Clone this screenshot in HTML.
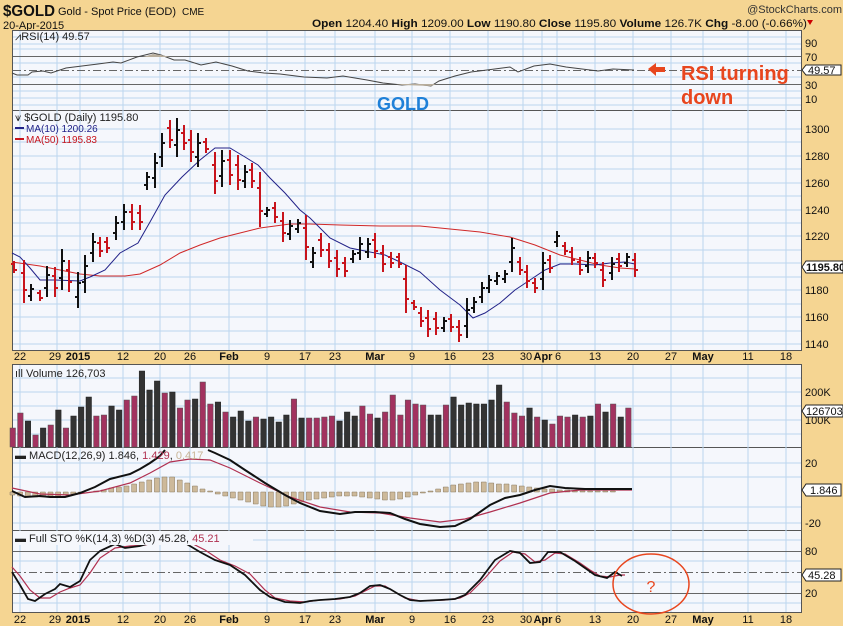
<!DOCTYPE html>
<html><head><meta charset="utf-8"><style>
body{margin:0;background:#F5D592;}
svg{display:block;font-family:"Liberation Sans",sans-serif;}
</style></head><body>
<svg width="843" height="626" viewBox="0 0 843 626" xmlns="http://www.w3.org/2000/svg">
<rect width="843" height="626" fill="#F5D592"/>
<!-- header -->
<text x="3" y="16" font-size="16" font-weight="bold" fill="#111" textLength="52" lengthAdjust="spacingAndGlyphs">$GOLD</text>
<text x="58" y="15" font-size="11" fill="#111">Gold - Spot Price (EOD)</text>
<text x="182" y="15" font-size="10" fill="#111">CME</text>
<text x="3" y="29" font-size="11" fill="#111">20-Apr-2015</text>
<text x="842" y="13" font-size="11" fill="#333" text-anchor="end">@StockCharts.com</text>
<text x="312" y="27" font-size="11" fill="#111" textLength="495" lengthAdjust="spacingAndGlyphs"><tspan font-weight="bold">Open</tspan> 1204.40 <tspan font-weight="bold">High</tspan> 1209.00 <tspan font-weight="bold">Low</tspan> 1190.80 <tspan font-weight="bold">Close</tspan> 1195.80 <tspan font-weight="bold">Volume</tspan> 126.7K <tspan font-weight="bold">Chg</tspan> -8.00 (-0.66%)</text>
<path d="M807 20h6l-3 5z" fill="#c00"/>

<!-- panels backgrounds -->
<g fill="#F5F7FC" stroke="#555" stroke-width="1">
<rect x="12.5" y="30.5" width="789" height="80"/>
<rect x="12.5" y="110.5" width="789" height="240"/>
<rect x="12.5" y="364.5" width="789" height="83"/>
<rect x="12.5" y="447.5" width="789" height="83"/>
<rect x="12.5" y="530.5" width="789" height="82"/>
</g>
<!-- vertical grid -->
<g stroke="#BCD6EE" stroke-width="1">
<path d="M20 31V350M57 31V350M80 31V350M123 31V350M160 31V350M190 31V350M229 31V350M267 31V350M305 31V350M335 31V350M375 31V350M412 31V350M450 31V350M488 31V350M523 31V350M542 31V350M557 31V350M595 31V350M633 31V350M671 31V350M703 31V350M748 31V350M786 31V350"/>
<path d="M20 365V612M57 365V612M80 365V612M123 365V612M160 365V612M190 365V612M229 365V612M267 365V612M305 365V612M335 365V612M375 365V612M412 365V612M450 365V612M488 365V612M523 365V612M542 365V612M557 365V612M595 365V612M633 365V612M671 365V612M703 365V612M748 365V612M786 365V612"/>
<!-- horizontal grid -->
<path d="M13 37H801M13 44H801M13 49H801M13 63H801M13 77H801M13 91H801M13 98H801M13 105H801"/>
<path d="M13 129H801M13 156H801M13 183H801M13 210H801M13 236H801M13 263H801M13 290H801M13 317H801M13 344H801M13 142H801M13 169H801M13 196H801M13 223H801M13 250H801M13 277H801M13 304H801M13 331H801"/>
<path d="M13 392H801M13 420H801M13 406H801M13 378H801M13 434H801"/>
<path d="M13 463H801M13 477H801M13 507H801M13 523H801"/>
<path d="M13 540H801M13 561H801M13 582H801M13 603H801"/>
</g>
<!-- RSI levels -->
<g stroke="#666" stroke-width="1">
<path d="M13 56.5H801M13 84.5H801"/>
<path d="M13 70.5H801" stroke-dasharray="8,3,2,3"/>
<path d="M13 551.5H801M13 593.5H801"/>
<path d="M13 572.5H801" stroke-dasharray="8,3,2,3"/>
</g>
<!-- RSI line -->
<polyline fill="none" stroke="#444" stroke-width="1" points="12,73 17,75 28,75 32,72 43,71 51,73 66,68 82,66 98,64 113,62 121,63 137,57 153,53 161,55 174,60 185,60 201,65 216,62 232,66 248,71 264,73 280,74 304,77 327,78 343,76 367,80 383,83 402,85 415,84 431,86 439,81 455,76 471,72 487,70 510,67 518,72 534,66 550,64 566,67 582,69 598,71 613,69 634,70"/>
<path d="M153 54 L161 55 L170 57 L143 57Z" fill="#b8ad9c"/>
<path d="M402 85 L431 86 L436 84 L396 84Z" fill="#b8ad9c"/>
<text x="15" y="40" font-size="11" fill="#222">⩘RSI(14) 49.57</text>
<text x="377" y="110" font-size="18" font-weight="bold" fill="#1F80D8">GOLD</text>
<path d="M648 69l8-6v4h9v5h-9v4z" fill="#E8461E"/>
<text x="681" y="80" font-size="20" font-weight="bold" fill="#E8461E">RSI turning</text>
<text x="681" y="104" font-size="20" font-weight="bold" fill="#E8461E">down</text>

<!-- MA lines -->
<polyline fill="none" stroke="#D02828" stroke-width="1" points="12,262 40,266 60,270 80,274 100,276 125,276 140,274 160,265 180,253 200,245 220,238 240,233 260,228 290,224 310,224 340,225 380,226 420,226 450,229 480,232 510,237 535,245 560,255 580,260 600,265 620,268 635,269"/>
<polyline fill="none" stroke="#222288" stroke-width="1" points="12,253 20,257 30,268 40,280 55,280 80,281 90,277 105,270 120,253 138,243 150,222 165,195 182,177 200,160 215,148 230,148 245,157 258,165 270,178 285,193 300,210 310,218 330,238 350,248 365,251 385,255 400,262 420,272 440,290 460,305 473,318 485,313 500,303 515,290 530,280 545,270 560,264 575,264 595,265 610,263 625,262 635,264"/>
<!-- price bars -->
<g stroke="#C8141C" stroke-width="2" fill="none">
<path d="M14 261V273M11 264H14M14 270H17M24 260V303M21 273H24M24 290H27M40 290V301M37 293H40M40 298H43M55 267V297M52 276H55M55 288H58M69 260V292M66 270H69M69 282H72M100 237V257M97 243H100M100 251H103M107 237V253M104 242H107M107 248H110M132 204V230M129 212H132M132 222H135M140 205V230M137 213H140M140 222H143M170 120V148M167 128H170M170 140H173M184 125V150M181 133H184M184 143H187M191 130V162M188 140H191M191 152H194M206 138V153M203 142H206M206 149H209M215 152V194M212 165H215M215 181H218M230 150V185M227 160H230M230 175H233M238 155V190M235 165H238M238 180H241M252 163V188M249 170H252M252 181H255M260 172V227M257 188H260M260 211H263M275 202V223M272 208H275M275 217H278M283 212V242M280 221H283M283 233H286M306 215V260M303 228H306M306 247H309M321 233V257M318 240H321M321 250H324M329 243V268M326 250H329M329 261H332M337 250V277M334 258H337M337 269H340M345 257V277M342 263H345M345 271H348M375 233V258M372 240H375M375 251H378M383 245V272M380 253H383M383 264H386M391 252V268M388 257H391M391 263H394M399 253V268M396 257H399M399 264H402M406 265V313M403 279H406M406 299H409M414 300V310M411 303H414M414 307H417M421 307V327M418 313H421M421 321H424M428 310V337M425 318H428M428 329H431M436 312V335M433 319H436M436 328H439M451 314V332M448 319H451M451 327H454M459 320V342M456 327H459M459 335H462M520 257V275M517 262H520M520 270H523M527 265V288M524 272H527M527 281H530M535 278V293M532 283H535M535 288H538M550 255V273M547 260H550M550 268H553M565 242V255M562 246H565M565 251H568M572 247V265M569 252H572M572 260H575M580 257V275M577 262H580M580 270H583M595 253V268M592 258H595M595 263H598M603 262V287M600 270H603M603 280H606M619 253V272M616 259H619M619 266H622M635 253V277M632 260H635M635 270H638"/>
</g>
<g stroke="#111" stroke-width="2" fill="none">
<path d="M31 284V301M28 296H31M31 289H34M47 266V297M44 288H47M47 275H50M62 249V290M59 278H62M62 261H65M78 272V308M75 297H78M78 283H81M85 255V293M82 282H85M85 266H88M93 233V262M90 253H93M93 242H96M116 216V240M113 233H116M116 223H119M124 204V230M121 222H124M124 212H127M147 172V190M144 185H147M147 177H150M155 153V188M152 178H155M155 163H158M162 133V167M159 157H162M162 143H165M177 118V157M174 145H177M177 130H180M198 133V167M195 157H198M198 143H201M222 150V187M219 176H222M222 161H225M245 165V188M242 181H245M245 172H248M267 207V217M264 214H267M267 210H270M290 220V240M287 234H290M290 226H293M298 219V233M295 229H298M298 223H301M313 247V268M310 262H313M313 253H316M353 250V263M350 259H353M353 254H356M360 237V260M357 253H360M360 244H363M368 238V258M365 252H368M368 244H371M444 317V332M441 328H444M444 321H447M467 298V338M464 326H467M467 310H470M474 297V313M471 308H474M474 302H477M482 282V303M479 297H482M482 288H485M489 275V293M486 288H489M489 280H492M497 272V285M494 281H497M497 276H500M505 270V283M502 279H505M505 274H508M512 238V272M509 262H512M512 248H515M543 252V290M540 279H543M543 263H546M557 231V247M554 242H557M557 236H560M588 251V273M585 266H588M588 258H591M612 257V280M609 273H612M612 264H615M627 253V267M624 263H627M627 257H630"/>
</g>
<text x="15" y="121" font-size="11" fill="#222">⩛ $GOLD (Daily) 1195.80</text>
<path d="M15 128h9" stroke="#222288" stroke-width="2"/><text x="26" y="132" font-size="10" fill="#222288">MA(10) 1200.26</text>
<path d="M15 139h9" stroke="#C8141C" stroke-width="2"/><text x="26" y="143" font-size="10" fill="#C8141C">MA(50) 1195.83</text>

<!-- volume -->
<g fill="#A2325F" stroke="#555" stroke-width="0.5">
<rect x="10" y="428" width="5.5" height="19"/><rect x="17.6" y="413" width="5.5" height="34"/><rect x="32.8" y="435" width="5.5" height="12"/><rect x="48" y="425" width="5.5" height="22"/><rect x="63.2" y="428" width="5.5" height="19"/><rect x="93.6" y="416" width="5.5" height="31"/><rect x="101.2" y="415" width="5.5" height="32"/><rect x="124" y="400" width="5.5" height="47"/><rect x="131.6" y="396" width="5.5" height="51"/><rect x="162" y="393" width="5.5" height="54"/><rect x="177.2" y="408" width="5.5" height="39"/><rect x="184.8" y="400" width="5.5" height="47"/><rect x="200" y="382" width="5.5" height="65"/><rect x="207.6" y="404" width="5.5" height="43"/><rect x="222.8" y="412" width="5.5" height="35"/><rect x="253.2" y="417" width="5.5" height="30"/><rect x="291.2" y="399" width="5.5" height="48"/><rect x="306.4" y="418" width="5.5" height="29"/><rect x="314" y="418" width="5.5" height="29"/><rect x="321.6" y="417" width="5.5" height="30"/><rect x="329.2" y="416" width="5.5" height="31"/><rect x="359.6" y="406" width="5.5" height="41"/><rect x="367.2" y="414" width="5.5" height="33"/><rect x="382.4" y="412" width="5.5" height="35"/><rect x="390" y="395" width="5.5" height="52"/><rect x="397.6" y="415" width="5.5" height="32"/><rect x="405.2" y="400" width="5.5" height="47"/><rect x="412.8" y="404" width="5.5" height="43"/><rect x="420.4" y="405" width="5.5" height="42"/><rect x="443.2" y="405" width="5.5" height="42"/><rect x="504" y="402" width="5.5" height="45"/><rect x="511.6" y="413" width="5.5" height="34"/><rect x="519.2" y="416" width="5.5" height="31"/><rect x="534.4" y="417" width="5.5" height="30"/><rect x="549.6" y="424" width="5.5" height="23"/><rect x="557.2" y="416" width="5.5" height="31"/><rect x="564.8" y="417" width="5.5" height="30"/><rect x="580" y="417" width="5.5" height="30"/><rect x="595.2" y="404" width="5.5" height="43"/><rect x="610.4" y="404" width="5.5" height="43"/><rect x="625.6" y="408" width="5.5" height="39"/>
</g>
<g fill="#333" stroke="#222" stroke-width="0.5">
<rect x="25.2" y="421" width="5.5" height="26"/><rect x="40.4" y="428" width="5.5" height="19"/><rect x="55.6" y="410" width="5.5" height="37"/><rect x="70.8" y="416" width="5.5" height="31"/><rect x="78.4" y="407" width="5.5" height="40"/><rect x="86" y="397" width="5.5" height="50"/><rect x="108.8" y="406" width="5.5" height="41"/><rect x="116.4" y="410" width="5.5" height="37"/><rect x="139.2" y="371" width="5.5" height="76"/><rect x="146.8" y="390" width="5.5" height="57"/><rect x="154.4" y="381" width="5.5" height="66"/><rect x="169.6" y="392" width="5.5" height="55"/><rect x="192.4" y="399" width="5.5" height="48"/><rect x="215.2" y="402" width="5.5" height="45"/><rect x="230.4" y="417" width="5.5" height="30"/><rect x="238" y="411" width="5.5" height="36"/><rect x="245.6" y="421" width="5.5" height="26"/><rect x="260.8" y="419" width="5.5" height="28"/><rect x="268.4" y="417" width="5.5" height="30"/><rect x="276" y="422" width="5.5" height="25"/><rect x="283.6" y="415" width="5.5" height="32"/><rect x="298.8" y="418" width="5.5" height="29"/><rect x="336.8" y="421" width="5.5" height="26"/><rect x="344.4" y="412" width="5.5" height="35"/><rect x="352" y="416" width="5.5" height="31"/><rect x="374.8" y="418" width="5.5" height="29"/><rect x="428" y="415" width="5.5" height="32"/><rect x="435.6" y="415" width="5.5" height="32"/><rect x="450.8" y="397" width="5.5" height="50"/><rect x="458.4" y="405" width="5.5" height="42"/><rect x="466" y="403" width="5.5" height="44"/><rect x="473.6" y="404" width="5.5" height="43"/><rect x="481.2" y="404" width="5.5" height="43"/><rect x="488.8" y="400" width="5.5" height="47"/><rect x="496.4" y="385" width="5.5" height="62"/><rect x="526.8" y="408" width="5.5" height="39"/><rect x="542" y="420" width="5.5" height="27"/><rect x="572.4" y="415" width="5.5" height="32"/><rect x="587.6" y="416" width="5.5" height="31"/><rect x="602.8" y="412" width="5.5" height="35"/><rect x="618" y="417" width="5.5" height="30"/>
</g>
<text x="15" y="377" font-size="11" fill="#222">ıll Volume 126,703</text>

<!-- MACD histogram -->
<path fill="#CDB99A" stroke="#8a7a60" stroke-width="0.5" d="M10 492v3h5v-3zM17.6 492v4h5v-4zM25.2 492v5h5v-5zM32.8 492v5h5v-5zM40.4 492v5h5v-5zM48 492v4h5v-4zM55.6 492v4h5v-4zM63.2 492v3h5v-3zM70.8 492v2h5v-2zM78.4 492v1h5v-1zM93.6 492v-1h5v1zM101.2 492v-2h5v2zM108.8 492v-4h5v4zM116.4 492v-5h5v5zM124 492v-6h5v6zM131.6 492v-8h5v8zM139.2 492v-10h5v10zM146.8 492v-12h5v12zM154.4 492v-14h5v14zM162 492v-15h5v15zM169.6 492v-15h5v15zM177.2 492v-12h5v12zM184.8 492v-9h5v9zM192.4 492v-6h5v6zM200 492v-3h5v3zM207.6 492v-1h5v1zM215.2 492v2h5v-2zM222.8 492v4h5v-4zM230.4 492v6h5v-6zM238 492v8h5v-8zM245.6 492v10h5v-10zM253.2 492v12h5v-12zM260.8 492v14h5v-14zM268.4 492v15h5v-15zM276 492v15h5v-15zM283.6 492v14h5v-14zM291.2 492v12h5v-12zM298.8 492v10h5v-10zM306.4 492v8h5v-8zM314 492v7h5v-7zM321.6 492v6h5v-6zM329.2 492v5h5v-5zM336.8 492v4h5v-4zM344.4 492v4h5v-4zM352 492v4h5v-4zM359.6 492v5h5v-5zM367.2 492v6h5v-6zM374.8 492v7h5v-7zM382.4 492v8h5v-8zM390 492v8h5v-8zM397.6 492v7h5v-7zM405.2 492v5h5v-5zM412.8 492v3h5v-3zM420.4 492v1h5v-1zM428 492v-1h5v1zM435.6 492v-3h5v3zM443.2 492v-5h5v5zM450.8 492v-7h5v7zM458.4 492v-8h5v8zM466 492v-9h5v9zM473.6 492v-10h5v10zM481.2 492v-10h5v10zM488.8 492v-9h5v9zM496.4 492v-8h5v8zM504 492v-8h5v8zM511.6 492v-7h5v7zM519.2 492v-6h5v6zM526.8 492v-5h5v5zM534.4 492v-4h5v4zM542 492v-3h5v3zM549.6 492v-3h5v3zM557.2 492v-2h5v2zM564.8 492v-2h5v2zM572.4 492v-1h5v1zM580 492v-1h5v1zM587.6 492v-1h5v1zM595.2 492v-1h5v1zM602.8 492v-1h5v1zM610.4 492v-1h5v1z"/>
<polyline fill="none" stroke="#B03050" stroke-width="1.2" points="12,488 40,494 70,495 100,491 130,483 150,473 170,462 190,459 210,460 230,468 260,483 290,497 320,507 350,512 380,513 410,518 440,522 465,519 490,512 520,503 550,493 580,490 632,490"/>
<polyline fill="none" stroke="#111" stroke-width="2" points="12,491 25,497 40,496 50,497 65,497 80,493 95,487 110,479 130,474 140,469 150,463 160,456 165,450"/>
<polyline fill="none" stroke="#111" stroke-width="2" points="208,450 215,453 230,460 245,470 265,483 285,495 300,503 320,511 340,514 355,512 375,512 390,513 405,519 420,524 440,527 455,526 470,519 490,505 505,498 520,495 535,490 550,486 565,488 585,489 600,489 615,489 632,489"/>
<text x="15" y="459" font-size="11" fill="#222">▬ MACD(12,26,9) 1.846, <tspan fill="#B03050">1.429</tspan>, <tspan fill="#C8B496">0.417</tspan></text>

<!-- STO -->
<polyline fill="none" stroke="#B03050" stroke-width="1.2" points="12,567 20,576 30,590 40,598 50,598 60,592 70,588 80,585 90,573 100,558 115,548 130,546 145,545 165,540 185,540 205,550 220,560 235,566 250,574 265,590 275,598 290,601 305,602 320,600 340,599 355,596 365,591 375,586 385,586 395,592 405,598 420,601 445,600 460,598 470,593 485,578 500,561 513,552 525,554 535,562 545,560 555,553 565,554 580,563 590,570 600,576 610,577 620,575 625,575"/>
<polyline fill="none" stroke="#111" stroke-width="1.8" points="12,572 20,585 28,599 35,601 45,594 55,589 60,584 70,587 80,581 90,560 100,551 115,544 125,548 140,546 160,540 180,540 200,552 215,560 230,565 245,575 260,590 270,597 285,602 300,603 310,601 320,600 335,599 350,597 360,593 370,586 380,585 390,589 400,595 410,600 420,601 440,600 455,599 465,595 480,580 495,560 510,551 520,553 530,563 540,562 548,552 560,552 575,561 585,568 595,575 607,578 615,572 622,576"/>
<rect x="13" y="531" width="240" height="14" fill="#F5F7FC"/>
<text x="15" y="542" font-size="11" fill="#222">▬ Full STO %K(14,3) %D(3) 45.28, <tspan fill="#B03050">45.21</tspan></text>
<ellipse cx="651" cy="584" rx="38" ry="30" fill="none" stroke="#E8461E" stroke-width="1.5"/>
<text x="651" y="592" font-size="16" fill="#E8461E" text-anchor="middle">?</text>

<!-- right axis labels -->
<g font-size="11" fill="#111">
<text x="805" y="47">90</text><text x="805" y="61">70</text><text x="805" y="89">30</text><text x="805" y="103">10</text>
<text x="805" y="133">1300</text><text x="805" y="160">1280</text><text x="805" y="187">1260</text><text x="805" y="214">1240</text><text x="805" y="240">1220</text><text x="805" y="294">1180</text><text x="805" y="321">1160</text><text x="805" y="348">1140</text>
<text x="805" y="396">200K</text><text x="805" y="424">100K</text>
<text x="805" y="467">20</text><text x="805" y="527">-20</text>
<text x="805" y="555">80</text><text x="805" y="597">20</text>
</g>
<g font-size="11" fill="#111" stroke="#222" stroke-width="1">
<path d="M802 70l4-5h35v10h-35z" fill="#fff"/>
<path d="M802 267l4-6h37v12h-37z" fill="#fff"/>
<path d="M802 411l4-6h37v12h-37z" fill="#fff"/>
<path d="M802 490l4-6h35v12h-35z" fill="#fff"/>
<path d="M802 575l4-6h35v12h-35z" fill="#fff"/>
</g>
<g font-size="11" fill="#111">
<text x="808" y="74">49.57</text>
<text x="806" y="271" font-weight="bold">1195.80</text>
<text x="806" y="415">126703</text>
<text x="810" y="494">1.846</text>
<text x="808" y="579">45.28</text>
</g>

<!-- date labels -->
<g font-size="11" fill="#111" text-anchor="middle">
<text x="20" y="360">22</text><text x="55" y="360">29</text><text x="78" y="360" font-weight="bold">2015</text><text x="123" y="360">12</text><text x="160" y="360">20</text><text x="190" y="360">26</text><text x="229" y="360" font-weight="bold">Feb</text><text x="267" y="360">9</text><text x="305" y="360">17</text><text x="335" y="360">23</text><text x="375" y="360" font-weight="bold">Mar</text><text x="412" y="360">9</text><text x="450" y="360">16</text><text x="488" y="360">23</text><text x="526" y="360">30</text><text x="543" y="360" font-weight="bold">Apr</text><text x="558" y="360">6</text><text x="595" y="360">13</text><text x="633" y="360">20</text><text x="671" y="360">27</text><text x="703" y="360" font-weight="bold">May</text><text x="748" y="360">11</text><text x="786" y="360">18</text>
</g>
<g font-size="11" fill="#111" text-anchor="middle">
<text x="20" y="623">22</text><text x="55" y="623">29</text><text x="78" y="623" font-weight="bold">2015</text><text x="123" y="623">12</text><text x="160" y="623">20</text><text x="190" y="623">26</text><text x="229" y="623" font-weight="bold">Feb</text><text x="267" y="623">9</text><text x="305" y="623">17</text><text x="335" y="623">23</text><text x="375" y="623" font-weight="bold">Mar</text><text x="412" y="623">9</text><text x="450" y="623">16</text><text x="488" y="623">23</text><text x="526" y="623">30</text><text x="543" y="623" font-weight="bold">Apr</text><text x="558" y="623">6</text><text x="595" y="623">13</text><text x="633" y="623">20</text><text x="671" y="623">27</text><text x="703" y="623" font-weight="bold">May</text><text x="748" y="623">11</text><text x="786" y="623">18</text>
</g>
</svg>
</body></html>
